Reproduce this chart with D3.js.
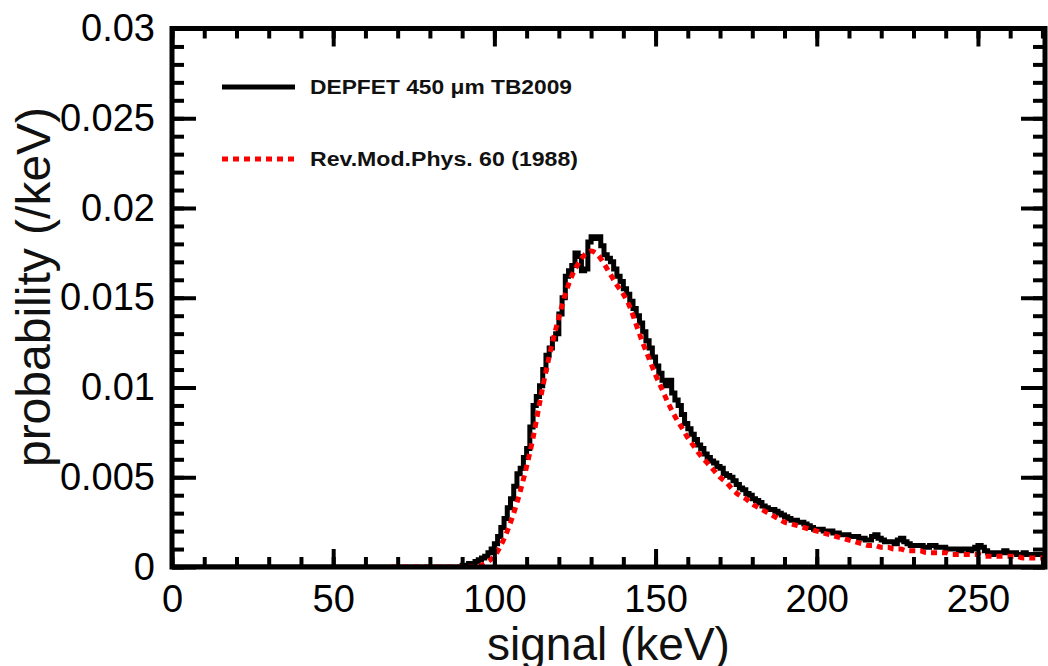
<!DOCTYPE html>
<html>
<head>
<meta charset="utf-8">
<script src="https://cdn.jsdelivr.net/npm/d3@7"></script>
<style>
  html, body { margin: 0; padding: 0; background: #fff; }
  svg { display: block; }
  text { font-family: "Liberation Sans", Arial, sans-serif; }
</style>
</head>
<body>
<svg id="chart" width="1048" height="666"></svg>
<script>
// ---------------- data ----------------
const xMajorTicks = [0, 50, 100, 150, 200, 250];
const xMinorTicks = d3.range(0, 271, 10);
const yMajorTicks = [0, 0.005, 0.01, 0.015, 0.02, 0.025, 0.03];
const yMajorLabels = ["0", "0.005", "0.01", "0.015", "0.02", "0.025", "0.03"];
const yMinorTicks = d3.range(0, 31).map(i => i / 1000);

const legendLabels = ["DEPFET 450 \u03bcm TB2009", "Rev.Mod.Phys. 60 (1988)"];

// black histogram (1 keV bins starting at blackFirstBin); zero below
const blackFirstBin = 88;
const blackValues = [
  0.0000, 0.0000, 0.0001, 0.0001, 0.0002, 0.0002, 0.0003, 0.0004, 0.0005, 0.0006, // 88-97
  0.0008, 0.0010, 0.0013, 0.0017, 0.0022, 0.0027, 0.0033, 0.0038, 0.0045, 0.0052, // 98-107
  0.0055, 0.0061, 0.0066, 0.0078, 0.0090, 0.0095, 0.0101, 0.0110, 0.0118, 0.0122, // 108-117
  0.0127, 0.0130, 0.0141, 0.0150, 0.0162, 0.0165, 0.0168, 0.0175, 0.0173, 0.0165, // 118-127
  0.0166, 0.0181, 0.0184, 0.0183, 0.0184, 0.0179, 0.0174, 0.0172, 0.0170, 0.0166, // 128-137
  0.0162, 0.0159, 0.0155, 0.0152, 0.0148, 0.0144, 0.0140, 0.0136, 0.0131, 0.0126, // 138-147
  0.0122, 0.0117, 0.0112, 0.0108, 0.0104, 0.0101, 0.0104, 0.0097, 0.0093, 0.0090, // 148-157
  0.0085, 0.0080, 0.0077, 0.0074, 0.0071, 0.0068, 0.0066, 0.0063, 0.0061, 0.0059, // 158-167
  0.0058, 0.0056, 0.0055, 0.0052, 0.0051, 0.0050, 0.0048, 0.0046, 0.0044, 0.0043, // 168-177
  0.0041, 0.0040, 0.0038, 0.0037, 0.0036, 0.0034, 0.0033, 0.0032, 0.0032, 0.0031, // 178-187
  0.0030, 0.0029, 0.0028, 0.0027, 0.0026, 0.0026, 0.0025, 0.0025, 0.0024, 0.0023, // 188-197
  0.0022, 0.0021, 0.0021, 0.0021, 0.0020, 0.0020, 0.0020, 0.0019, 0.0019, 0.0018, // 198-207
  0.0018, 0.0018, 0.0017, 0.0017, 0.0017, 0.0016, 0.0016, 0.0015, 0.0015, 0.0017, // 208-217
  0.0018, 0.0016, 0.0015, 0.0014, 0.0014, 0.0014, 0.0013, 0.0015, 0.0016, 0.0014, // 218-227
  0.0013, 0.0012, 0.0012, 0.0012, 0.0012, 0.0011, 0.0011, 0.0012, 0.0012, 0.0011, // 228-237
  0.0011, 0.0011, 0.0010, 0.0010, 0.0010, 0.0010, 0.0009, 0.0010, 0.0010, 0.0009, // 238-247
  0.0010, 0.0011, 0.0012, 0.0011, 0.0009, 0.0008, 0.0007, 0.0008, 0.0008, 0.0008, // 248-257
  0.0009, 0.0008, 0.0008, 0.0008, 0.0007, 0.0007, 0.0008, 0.0007, 0.0007, 0.0007, // 258-267
  0.0007, 0.0007, 0.0007, 0.0007                                                  // 268-271
];

// red model curve (Rev.Mod.Phys. 60), every 2 keV
const redKeV = d3.range(68, 272, 2);
const redValues = [
  0, 0, 0, 0, 0, 0, 0, 0, 0, 0, 0, 0, 0, 0,                 // 68-94
  0.0001, 0.0003, 0.0006, 0.0012, 0.0020, 0.0030, 0.0042,  // 96-108
  0.0056, 0.0072, 0.0091, 0.0109, 0.0125, 0.0139, 0.0152,  // 110-122
  0.0162, 0.0169, 0.0174, 0.0176, 0.0174, 0.0169, 0.0163,  // 124-136
  0.0157, 0.0152, 0.0145, 0.0135, 0.0125, 0.0116, 0.0107,  // 138-150
  0.0099, 0.0091, 0.0084, 0.0078, 0.0072, 0.0067, 0.0062,  // 152-164
  0.0058, 0.0054, 0.0050, 0.0047, 0.0043, 0.0040, 0.0038,  // 166-178
  0.0035, 0.0033, 0.0031, 0.0029, 0.0027, 0.0025, 0.0024,  // 180-192
  0.0023, 0.0022, 0.0021, 0.0020, 0.0019, 0.0018, 0.0017,  // 194-206
  0.0016, 0.0015, 0.0014, 0.0013, 0.0012, 0.0012, 0.0011,  // 208-220
  0.0011, 0.0010, 0.0010, 0.0009, 0.0009, 0.0009, 0.0008,  // 222-234
  0.0008, 0.0008, 0.0008, 0.0007, 0.0007, 0.0007, 0.0007,  // 236-248
  0.0007, 0.0006, 0.0006, 0.0006, 0.0006, 0.0006, 0.0006,  // 250-262
  0.0005, 0.0005, 0.0005, 0.0005, 0.0005                   // 264-272
];

// ---------------- chart ----------------
const svg = d3.select("#chart");
const x = d3.scaleLinear().domain([0, 270.8]).range([172, 1045]);
const y = d3.scaleLinear().domain([0, 0.03]).range([567, 28.5]);

const blackData = [{k: 0, v: 0}].concat(blackValues.map((v, i) => ({k: blackFirstBin + i, v})));
const redData = redKeV.map((k, i) => ({k, v: redValues[i]})).filter(d => d.v !== undefined);

svg.append("defs").append("clipPath").attr("id", "plotclip")
  .append("rect")
  .attr("x", x(0)).attr("y", y(0.03))
  .attr("width", x(270.8) - x(0)).attr("height", y(0) - y(0.03));

const plot = svg.append("g").attr("clip-path", "url(#plotclip)");

plot.append("path")
  .datum(blackData)
  .attr("fill", "none")
  .attr("stroke", "#000")
  .attr("stroke-width", 5)
  .attr("stroke-linejoin", "miter")
  .attr("d", d3.line().x(d => x(d.k)).y(d => y(d.v)).curve(d3.curveStepAfter));

plot.append("path")
  .datum(redData)
  .attr("fill", "none")
  .attr("stroke", "#ff0000")
  .attr("stroke-width", 5)
  .attr("stroke-dasharray", "6,5")
  .attr("d", d3.line().x(d => x(d.k)).y(d => y(d.v)).curve(d3.curveMonotoneX));

// ticks helper
function ticks(axis, transform, withLabels) {
  const g = svg.append("g").attr("transform", transform).call(axis);
  g.select(".domain").remove();
  g.selectAll(".tick line").attr("stroke", "#000").attr("stroke-width", 4);
  g.selectAll(".tick text")
    .attr("fill", "#000")
    .style("font-family", "'Liberation Sans', Arial, sans-serif")
    .style("font-size", withLabels ? "38px" : "0px");
  return g;
}

const bottomY = y(0), topY = y(0.03), leftX = x(0), rightX = x(270.8);

// bottom
ticks(d3.axisBottom(x).tickValues(xMinorTicks).tickSize(-10).tickFormat(""), `translate(0,${bottomY})`, false);
ticks(d3.axisBottom(x).tickValues(xMajorTicks).tickSize(-18).tickPadding(18).tickFormat(d => String(d)), `translate(0,${bottomY})`, true);
// top
ticks(d3.axisTop(x).tickValues(xMinorTicks).tickSize(-10).tickFormat(""), `translate(0,${topY})`, false);
ticks(d3.axisTop(x).tickValues(xMajorTicks).tickSize(-18).tickFormat(""), `translate(0,${topY})`, false);
// left
ticks(d3.axisLeft(y).tickValues(yMinorTicks).tickSize(-12).tickFormat(""), `translate(${leftX},0)`, false);
ticks(d3.axisLeft(y).tickValues(yMajorTicks).tickSize(-24).tickPadding(17)
  .tickFormat((d, i) => yMajorLabels[i]), `translate(${leftX},0)`, true);
// right
ticks(d3.axisRight(y).tickValues(yMinorTicks).tickSize(-12).tickFormat(""), `translate(${rightX},0)`, false);
ticks(d3.axisRight(y).tickValues(yMajorTicks).tickSize(-24).tickFormat(""), `translate(${rightX},0)`, false);

// frame
svg.append("rect")
  .attr("x", leftX).attr("y", topY)
  .attr("width", rightX - leftX).attr("height", bottomY - topY)
  .attr("fill", "none").attr("stroke", "#000").attr("stroke-width", 5);

// axis titles
svg.append("text")
  .attr("x", (leftX + rightX) / 2).attr("y", 660)
  .attr("text-anchor", "middle")
  .style("font-size", "46px").attr("fill", "#111")
  .text("signal (keV)");

svg.append("text")
  .attr("transform", `translate(50,287) rotate(-90)`)
  .attr("text-anchor", "middle")
  .style("font-size", "48px").attr("fill", "#111")
  .text("probability (/keV)");

// legend
const legend = svg.append("g");
const legendRows = [
  {y: 87, color: "#000", dash: null, label: legendLabels[0], len: 262},
  {y: 159, color: "#ff0000", dash: "6,5", label: legendLabels[1], len: 268}
];
legendRows.forEach(r => {
  legend.append("line")
    .attr("x1", 222).attr("x2", 295).attr("y1", r.y).attr("y2", r.y)
    .attr("stroke", r.color).attr("stroke-width", 5)
    .attr("stroke-dasharray", r.dash);
  legend.append("text")
    .attr("x", 310).attr("y", r.y + 7)
    .attr("textLength", r.len).attr("lengthAdjust", "spacingAndGlyphs")
    .style("font-size", "20px").style("font-weight", "bold").attr("fill", "#111")
    .text(r.label);
});
</script>
</body>
</html>
